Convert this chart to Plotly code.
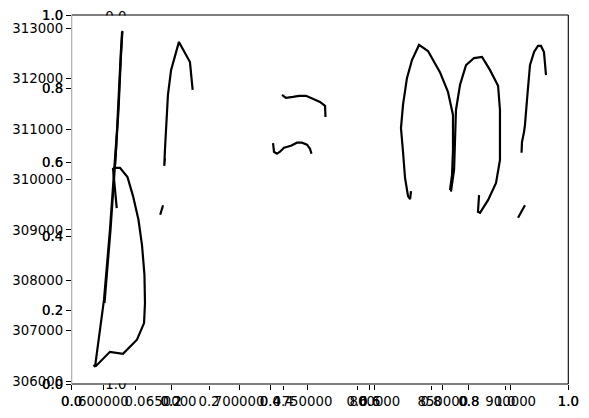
import plotly.graph_objects as go

# ---------------- data ----------------
unit_ticks = [0.0, 0.2, 0.4, 0.6, 0.8, 1.0]
unit_labels = ["0.0", "0.2", "0.4", "0.6", "0.8", "1.0"]
east_ticks = [600000, 650000, 700000, 750000, 800000, 850000, 900000]
east_labels = ["600000", "650000", "700000", "750000", "800000", "850000", "900000"]
north_ticks = [306000, 307000, 308000, 309000, 310000, 311000, 312000, 313000]
north_labels = ["306000", "307000", "308000", "309000", "310000", "311000", "312000", "313000"]
east_range = [576730, 942420]
north_range = [305942, 313264]
inner_y_ticks = [0.0, 1.0]
inner_y_labels = ["0.0", "1.0"]

# line 1 : loop + long stroke (easting, northing)
line1_x = [607100, 612300, 617800, 621900, 625900, 628500, 630300, 630700, 630000,
           624800, 614500, 604900, 594600, 593500, 593900, 600500, 604900, 610100,
           613000, 614100, 612700, 609400, 605300, 600900]
line1_y = [310230, 310230, 310050, 309670, 309200, 308700, 308110, 307550, 307150,
           306820, 306540, 306580, 306300, 306300, 306280, 307610, 309000, 310980,
           312570, 312950, 312370, 310590, 309000, 307550]
line1b_x = [613800, 613000, 611200, 608600]
line1b_y = [312930, 312470, 311380, 310290]
branch1_x = [607100, 609900]
branch1_y = [310230, 309430]
# line 2
line2_x = [645400, 644900, 645400, 646700, 647600, 649900, 655700, 663800, 665800]
line2_y = [310420, 310270, 310590, 311180, 311680, 312170, 312730, 312330, 311780]
mark2_x = [641900, 644000]
mark2_y = [309300, 309490]
# line 3 (two arcs)
line3a_x = [731600, 734500, 739700, 744100, 749300, 754400, 759600, 763300, 763600]
line3a_y = [311680, 311620, 311640, 311660, 311660, 311600, 311540, 311460, 311240]
line3b_x = [725000, 725700, 727900, 730100, 733100, 738200, 742600, 746300, 750000, 752200, 753300]
line3b_y = [310720, 310550, 310510, 310550, 310630, 310670, 310730, 310730, 310690, 310610, 310510]
# line 4
line4_x = [826600, 825900, 824400, 822200, 820700, 819200, 820700, 823600, 827300,
           832500, 839100, 847900, 853800, 857500, 857500, 856800, 855300]
line4_y = [309770, 309610, 309670, 310030, 310550, 311020, 311480, 312010, 312370,
           312670, 312550, 312130, 311740, 311280, 310590, 310090, 309790]
# line 5
line5_x = [856000, 858300, 859000, 859700, 862700, 867100, 873000, 878900, 884800,
           890700, 892100, 892100, 889200, 883300, 877400, 875900, 876700]
line5_y = [309760, 310190, 310780, 311380, 311880, 312270, 312410, 312430, 312170,
           311860, 311380, 310390, 309930, 309590, 309340, 309360, 309690]
# line 6
line6_x = [908000, 908300, 909800, 910500, 912000, 914200, 917200, 920100, 922300, 924500, 926000]
line6_y = [310530, 310740, 310940, 311080, 311580, 312270, 312530, 312650, 312650, 312530, 312070]
mark6_x = [905400, 907600, 910500]
mark6_y = [309240, 309340, 309490]

series = [
    (line1_x, line1_y), (line1b_x, line1b_y), (branch1_x, branch1_y),
    (line2_x, line2_y), (mark2_x, mark2_y),
    (line3a_x, line3a_y), (line3b_x, line3b_y),
    (line4_x, line4_y), (line5_x, line5_y),
    (line6_x, line6_y), (mark6_x, mark6_y),
]

# ---------------- layout helpers ----------------
W, H = 589, 418


def fx(p):
    return p / W


def fy(p):
    return 1 - p / H


MAIN_X = [fx(71.7), fx(568.3)]
MAIN_Y = [fy(384), fy(15)]
INNER_X = [fx(135), fx(505)]
INNER_Y = [fy(384.5), fy(16)]

FONT = dict(family="DejaVu Sans", size=13.3, color="black")
TICK = dict(ticks="outside", ticklen=4.9, tickwidth=1.1, tickcolor="black",
            showgrid=False, zeroline=False, showline=False, tickfont=FONT,
            automargin=False)

fig = go.Figure()

# invisible anchors for the auxiliary axes
for xa, ya in [("x", "y"), ("x2", "y2"), ("x4", "y4")]:
    fig.add_trace(go.Scatter(x=[0.5], y=[0.5], xaxis=xa, yaxis=ya, mode="markers",
                             marker=dict(opacity=0), hoverinfo="skip", showlegend=False))

for sx, sy in series:
    fig.add_trace(go.Scatter(x=sx, y=sy, xaxis="x3", yaxis="y3", mode="lines",
                             line=dict(color="black", width=2.2), hoverinfo="skip",
                             showlegend=False))

fig.update_layout(
    template="none",
    width=W, height=H, margin=dict(l=0, r=0, t=0, b=0, pad=0, autoexpand=False),
    paper_bgcolor="white", plot_bgcolor="rgba(0,0,0,0)", showlegend=False,
    font=FONT,
    xaxis=dict(domain=MAIN_X, anchor="y", range=[0, 1], tickvals=unit_ticks,
               ticktext=unit_labels, **TICK),
    yaxis=dict(domain=MAIN_Y, anchor="x", range=[0, 1], tickvals=unit_ticks,
               ticktext=unit_labels, **TICK),
    xaxis2=dict(overlaying="x", anchor="y2", range=[0, 1], tickvals=unit_ticks,
                ticktext=unit_labels, side="bottom", **TICK),
    yaxis2=dict(overlaying="y", anchor="x2", range=[0, 1], tickvals=unit_ticks,
                ticktext=unit_labels, side="left", **TICK),
    xaxis3=dict(overlaying="x", anchor="y3", range=east_range, tickvals=east_ticks,
                ticktext=east_labels, side="bottom", **TICK),
    yaxis3=dict(overlaying="y", anchor="x3", range=north_range, tickvals=north_ticks,
                ticktext=north_labels, side="left", **TICK),
    xaxis4=dict(domain=INNER_X, anchor="y4", range=[0, 1], tickvals=unit_ticks,
                ticktext=unit_labels, **TICK),
    yaxis4=dict(domain=INNER_Y, anchor="x4", range=[1, 0], tickvals=inner_y_ticks,
                ticktext=inner_y_labels, ticks="outside", ticklen=4.9,
                tickcolor="rgba(0,0,0,0)", showgrid=False, zeroline=False, showline=False,
                tickfont=FONT, automargin=False),
)

# the inner frame lies behind the main one: hide the parts of its labels inside it
shapes = [
    dict(type="rect", xref="paper", yref="paper", x0=fx(98), x1=fx(133), y0=fy(26), y1=fy(15.6),
         fillcolor="white", line=dict(width=0), layer="above"),
    dict(type="rect", xref="paper", yref="paper", x0=fx(98), x1=fx(133), y0=fy(383.4), y1=fy(372),
         fillcolor="white", line=dict(width=0), layer="above"),
    # spines
    dict(type="line", xref="paper", yref="paper", x0=MAIN_X[0], x1=MAIN_X[1], y0=MAIN_Y[1], y1=MAIN_Y[1],
         line=dict(color="black", width=1.1), layer="above"),
    dict(type="line", xref="paper", yref="paper", x0=MAIN_X[0], x1=MAIN_X[1], y0=MAIN_Y[0], y1=MAIN_Y[0],
         line=dict(color="black", width=1.1), layer="above"),
    dict(type="line", xref="paper", yref="paper", x0=MAIN_X[1], x1=MAIN_X[1], y0=MAIN_Y[0], y1=MAIN_Y[1],
         line=dict(color="black", width=1.1), layer="above"),
    dict(type="line", xref="paper", yref="paper", x0=MAIN_X[0], x1=MAIN_X[0], y0=MAIN_Y[0], y1=MAIN_Y[1],
         line=dict(color="#a8a8a8", width=1.1), layer="above"),
]
fig.update_layout(shapes=shapes)

fig.write_html("out.html")
